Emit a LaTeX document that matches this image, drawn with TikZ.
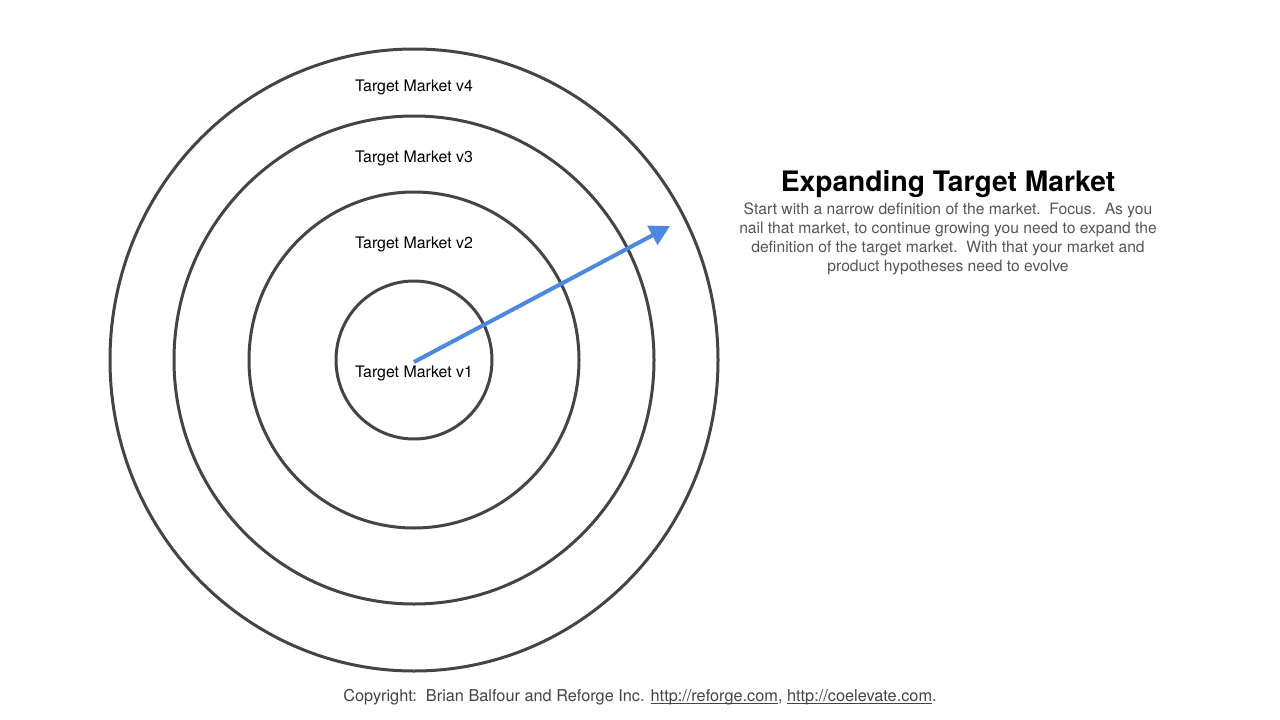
\documentclass[tikz,border=0pt]{standalone}
\usepackage{fontspec}
\setmainfont{TeX Gyre Heros}
\usetikzlibrary{arrows.meta}

\definecolor{ringgray}{HTML}{444444}
\definecolor{textgray}{HTML}{555555}
\definecolor{arrowblue}{HTML}{4A88E4}

\newsavebox\linkbox
\newcommand\linktext[1]{\sbox\linkbox{#1}\rlap{\rule[-2.2pt]{\wd\linkbox}{0.8pt}}\usebox\linkbox}

\tikzset{
  ring/.style={draw=ringgray, line width=3pt},
  ringlabel/.style={font=\fontsize{15.9}{19}\selectfont, text=black, inner sep=0pt},
}

\begin{document}
\begin{tikzpicture}[x=1pt, y=-1pt]
  \useasboundingbox[fill=white] (0,0) rectangle (1280,720);
  \coordinate (c) at (414,360);

  % Draw the rings
  \draw[ring] (c) ellipse (78 and 79);    % v1
  \draw[ring] (c) ellipse (165 and 168);  % v2
  \draw[ring] (c) ellipse (240 and 244);  % v3
  \draw[ring] (c) ellipse (304 and 311);  % v4

  % Ring labels
  \node[ringlabel] (v4) at (414,87.5) {Target Market v4};
  \node[ringlabel] (v3) at (414,158.5) {Target Market v3};
  \node[ringlabel] (v2) at (414,244.5) {Target Market v2};
  \node[ringlabel] (v1) at (414,373.5) {Target Market v1};

  % Draw the arrow
  \coordinate (tip) at (670,226);
  \draw[draw=arrowblue, line width=4pt, -{Triangle[length=20pt,width=21pt,fill=arrowblue]}] (414,362) -- (tip);

  % Add title and text
  \node[font=\fontsize{28.2}{33}\selectfont\bfseries, inner sep=0pt] (title) at (948,184.5) {Expanding Target Market};
  \node[font=\fontsize{15.65}{19}\selectfont, text=textgray, align=center, inner sep=0pt, anchor=north] (body) at (948,203)
    {Start with a narrow definition of the market.\ \ Focus.\ \ As you\\
     nail that market, to continue growing you need to expand the\\
     definition of the target market.\ \ With that your market and\\
     product hypotheses need to evolve};

  % Copyright line
  \node[font=\fontsize{16.3}{19}\selectfont, text=ringgray, inner sep=0pt] (copy) at (640,697)
    {Copyright:\ \ Brian Balfour and Reforge Inc. \linktext{http://reforge.com}, \linktext{http://coelevate.com}.};
\end{tikzpicture}
\end{document}
